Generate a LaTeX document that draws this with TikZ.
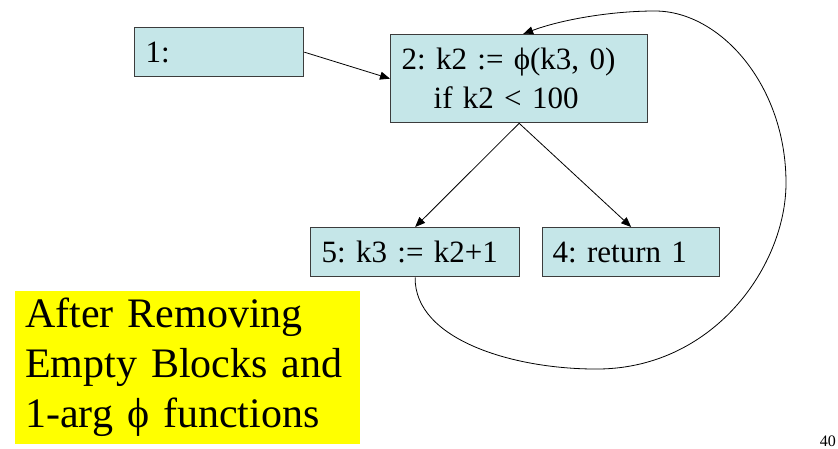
\documentclass[tikz,border=0pt]{standalone}
\usepackage{fontspec}
\setmainfont{Liberation Serif}
\usetikzlibrary{arrows.meta}
\frenchspacing
\definecolor{blockfill}{RGB}{197,230,232}
\definecolor{blockline}{RGB}{60,60,60}
\definecolor{notefill}{RGB}{255,255,0}
\tikzset{
  block/.style={draw=blockline,line width=1.3pt,fill=blockfill,anchor=north west,
    inner xsep=11pt,inner ysep=0pt,align=left,
    font=\fontsize{31}{39}\selectfont},
  flow/.style={-{Triangle[length=10pt,width=8pt]},line width=0.8pt}
}
\begin{document}
\begin{tikzpicture}[x=1pt,y=-1pt]
\useasboundingbox (0,0) rectangle (838,449);
\node[block,minimum width=169pt,minimum height=49pt,text width=147pt] (b1) at (134,27) {1:};
\node[block,minimum width=257pt,minimum height=88pt,text width=235pt] (b2) at (390,34)
  {2: k2 := ϕ(k3, 0)\\\hspace*{32pt}if k2 < 100};
\node[block,minimum width=209pt,minimum height=49pt,text width=187pt] (b5) at (310,227) {5: k3 := k2+1};
\node[block,minimum width=177pt,minimum height=49pt,text width=157pt,inner xsep=10pt] (b4) at (542,227) {4: return 1};
\draw[flow] (b1.east) -- (b2.west);
\draw[flow] (b2.south) -- (b5.north);
\draw[flow] (b2.south) -- (b4.north);
\draw[flow] (b5.south) .. controls (414,340) and (515,370) .. (600,369)
  .. controls (715,367) and (786,265) .. (786,183)
  .. controls (786,85) and (720,11) .. (655,11)
  .. controls (610,11) and (560,20) .. ([xshift=4pt]b2.north);
\node[fill=notefill,anchor=north west,minimum width=345pt,minimum height=153pt,
  inner xsep=10pt,inner ysep=0pt,text width=325pt,align=left,
  font=\fontsize{42}{50}\selectfont] (note) at (15,291)
  {After Removing\\Empty Blocks and\\1-arg ϕ functions};
\node[anchor=base east,inner sep=0pt,font=\fontsize{16}{18}\selectfont] (page) at (836,446) {40};
\end{tikzpicture}
\end{document}
